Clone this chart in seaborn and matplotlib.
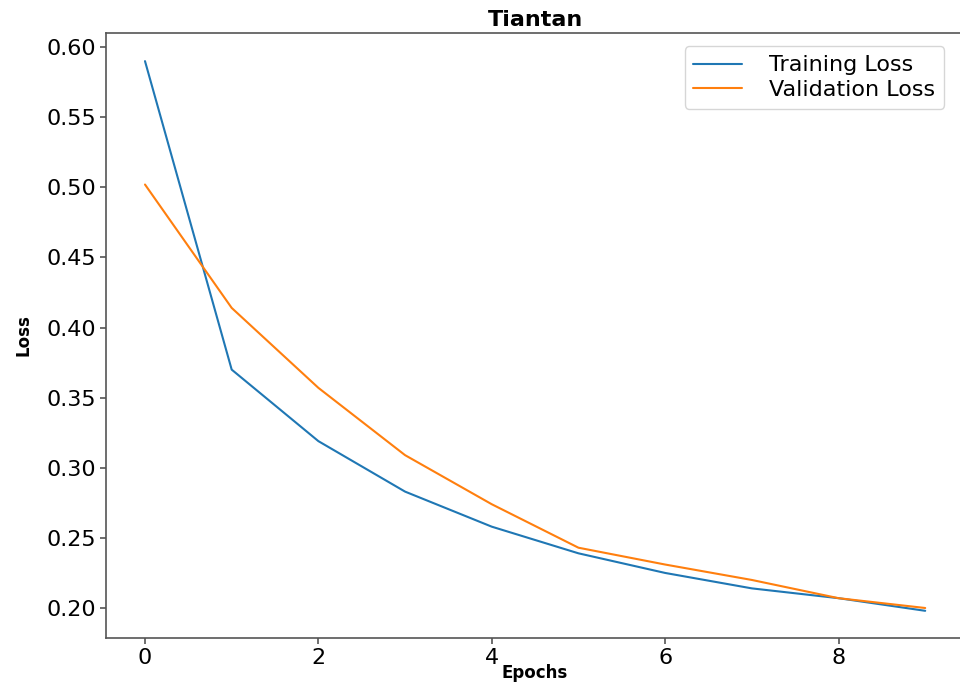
import pandas as pd
import matplotlib
matplotlib.use("Agg")
import matplotlib.pyplot as plt
import seaborn as sns

# Values
epochs = [0, 1, 2, 3, 4, 5, 6, 7, 8, 9]
train_loss = [0.590, 0.370, 0.319, 0.283, 0.258, 0.239, 0.225, 0.214, 0.207, 0.198]
val_loss = [0.502, 0.414, 0.357, 0.309, 0.274, 0.243, 0.231, 0.220, 0.207, 0.200]

sns.set_theme(style="ticks")
plt.rcParams['font.family'] = ['DejaVu Sans']
plt.rcParams['text.color'] = 'black'

df = pd.DataFrame({
    'epoch': epochs * 2,
    'loss': train_loss + val_loss,
    'series': ['Training Loss'] * len(epochs) + ['Validation Loss'] * len(epochs),
})

fig = plt.figure(figsize=(9.6, 6.82), dpi=100)
# right edge of axes sits just past the picture edge, as in the reference
ax = fig.add_axes([0.1104, 0.0645, 0.894, 0.887])

sns.lineplot(data=df, x='epoch', y='loss', hue='series',
             palette=['#1f77b4', '#ff7f0e'], linewidth=1.5, ax=ax)

yticks = [0.20, 0.25, 0.30, 0.35, 0.40, 0.45, 0.50, 0.55, 0.60]
ax.set_xlim(-0.45, 9.45)
ax.set_ylim(0.1786, 0.61)
ax.set_xticks([0, 2, 4, 6, 8])
ax.set_yticks(yticks)
ax.set_yticklabels([f"{v:.2f}" for v in yticks])
ax.tick_params(axis='both', labelsize=16, colors='#555555', labelcolor='black',
               length=4, width=1.2, pad=3)

for s in ax.spines.values():
    s.set_color('#555555')
    s.set_linewidth(1.2)
ax.spines['right'].set_visible(False)

ax.set_title('Tiantan', fontsize=16, fontweight='bold', pad=5, color='black')
ax.set_xlabel('Epochs', fontsize=12, fontweight='bold', labelpad=-3, color='black')
ax.set_ylabel('Loss', fontsize=12, fontweight='bold', labelpad=10, color='black')

leg = ax.legend(loc='upper right', fontsize=16, frameon=True, handlelength=2.2,
                handletextpad=1.2, labelspacing=0.2, borderaxespad=0.6,
                bbox_to_anchor=(0.992, 1.0))
leg.set_title(None)

fig.savefig('out.png', dpi=100)
plt.close(fig)
